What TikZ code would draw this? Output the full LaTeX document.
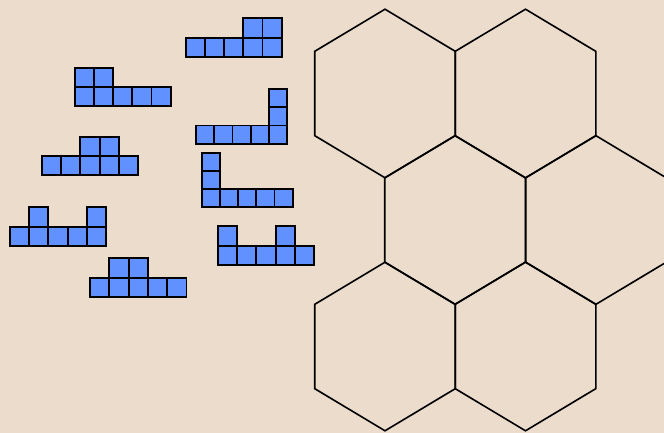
\documentclass[tikz,border=0pt]{standalone}
\definecolor{bg}{RGB}{236,220,204}
\definecolor{cellblue}{RGB}{97,145,255}
\tikzset{
  cell/.style={fill=cellblue, draw=black, line width=1.9pt},
  hexline/.style={draw=black, line width=1.6pt, line join=miter},
}
\newcommand{\mypiece}[4]{%
  \foreach \c/\r in {#4} {
    \draw[cell] ({#1+\c*#3},{#2+\r*#3}) rectangle ++(#3,#3);
  }
}
\newcommand{\myhex}[2]{%
  \draw[hexline] (#1,#2-84.3) -- (#1+70.3,#2-42.15) -- (#1+70.3,#2+42.15) -- (#1,#2+84.3)
    -- (#1-70.3,#2+42.15) -- (#1-70.3,#2-42.15) -- cycle;
}
\begin{document}
\begin{tikzpicture}[x=1pt,y=-1pt]
\fill[bg] (0,0) rectangle (664,433);
\useasboundingbox (0,0) rectangle (664,433);
\begin{scope}
\clip (0,0) rectangle (664,433);
\myhex{385}{93.5}
\myhex{525.5}{93.5}
\myhex{455}{220}
\myhex{596}{220}
\myhex{385}{346.5}
\myhex{525.5}{346.5}
\end{scope}
% polyominoes
\mypiece{185.7}{18.4}{19.2}{3/0,4/0,0/1,1/1,2/1,3/1,4/1}
\mypiece{74.7}{67.7}{19.2}{0/0,1/0,0/1,1/1,2/1,3/1,4/1}
\mypiece{196.3}{89.3}{18.1}{4/0,4/1,0/2,1/2,2/2,3/2,4/2}
\mypiece{41.7}{136.7}{19.3}{2/0,3/0,0/1,1/1,2/1,3/1,4/1}
\mypiece{201.7}{152.7}{18.2}{0/0,0/1,0/2,1/2,2/2,3/2,4/2}
\mypiece{9.7}{207.3}{19.3}{1/0,4/0,0/1,1/1,2/1,3/1,4/1}
\mypiece{90}{258.3}{19.3}{1/0,2/0,0/1,1/1,2/1,3/1,4/1}
\mypiece{217.7}{226.3}{19.3}{0/0,3/0,0/1,1/1,2/1,3/1,4/1}
\end{tikzpicture}
\end{document}
